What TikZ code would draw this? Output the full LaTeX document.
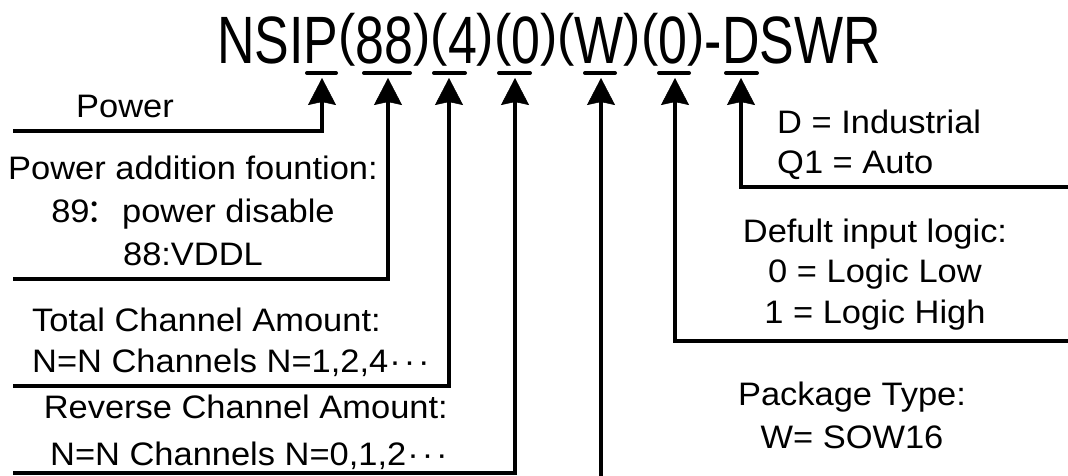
\documentclass[tikz,border=0pt]{standalone}
\usepackage{fontspec}
\usepackage{graphicx}
\setmainfont{Liberation Sans}
\newfontfamily\labfont{Liberation Sans}[FakeStretch=1.06]
\newfontfamily\titlefont{Liberation Sans}
\newfontfamily\cjk{Noto Sans CJK SC}
\usetikzlibrary{arrows.meta}
\newcommand{\mydots}{\kern1pt·\kern3pt·\kern3pt·}
\newcommand{\tpl}{\raisebox{9pt}{\scalebox{1}[0.85]{(}}}
\newcommand{\tpr}{\raisebox{9pt}{\scalebox{1}[0.85]{)}}}
\begin{document}
\begin{tikzpicture}[x=1pt,y=-1pt,
  wire/.style={line width=3.8pt, -{Stealth[length=27pt,width=28pt,inset=3pt,line width=0.5pt]}},
  bar/.style={line width=4pt, line cap=round},
  lab/.style={inner sep=0pt, font=\labfont\fontsize{32.5}{41}\selectfont},
  ]
\useasboundingbox (0,0) rectangle (1068,475);

% title
\node[anchor=base west, inner sep=0pt, font=\titlefont\fontsize{67}{80}\selectfont] (title) at (217,63)
  {\scalebox{0.775}[1]{NSIP\tpl 88\tpr\tpl 4\tpr\tpl 0\tpr\tpl W\tpr\tpl 0\tpr-DSWR}};

% bars under the title
\foreach \a/\b in {307/336, 364/410, 434/465, 499/530, 585/615, 659/689, 726/757}
  \draw[bar] (\a,73) -- (\b,73);

% arrow targets
\coordinate (a1) at (322,78);
\coordinate (a2) at (388,78);
\coordinate (a3) at (449,78);
\coordinate (a4) at (515,78);
\coordinate (a5) at (601,78);
\coordinate (a6) at (675,78);
\coordinate (a7) at (741,78);

% free ends
\coordinate (s1) at (13,131);
\coordinate (s2) at (13,279);
\coordinate (s3) at (13,386);
\coordinate (s4) at (13,473);
\coordinate (s5) at (601,476);
\coordinate (s6) at (1069,341);
\coordinate (s7) at (1069,187);

\draw[wire] (s1) -| (a1);
\draw[wire] (s2) -| (a2);
\draw[wire] (s3) -| (a3);
\draw[wire] (s4) -| (a4);
\draw[wire] (s5) -- (a5);
\draw[wire] (s6) -| (a6);
\draw[wire] (s7) -| (a7);

% labels (base anchor = baseline of the last line)
\node[lab, anchor=base] (power) at (125,117) {Power};
\node[lab, anchor=base, align=center, font=\labfont\fontsize{32.5}{43}\selectfont] (padd) at (193,265)
  {Power addition fountion:\\ 89\kern-3pt{\cjk ：}\kern3pt power disable\\ 88:VDDL};
\node[lab, anchor=base west, align=left, font=\labfont\fontsize{32.5}{41}\selectfont] (total) at (32,372)
  {Total Channel Amount:\\ N=N Channels N=1,2,4\mydots};
\node[lab, anchor=base east, align=right, font=\labfont\fontsize{32.5}{47}\selectfont] (rev) at (448,465)
  {Reverse Channel Amount:\\ N=N Channels N=0,1,2\mydots};
\node[lab, anchor=base west, align=left, font=\labfont\fontsize{32.5}{40}\selectfont] (ind) at (777,173)
  {D = Industrial\\ Q1 = Auto};
\node[lab, anchor=base, align=center, font=\labfont\fontsize{32.5}{40.5}\selectfont] (logic) at (875,323)
  {Defult input logic:\\ 0 = Logic Low\\ 1 = Logic High};
\node[lab, anchor=base, align=center, font=\labfont\fontsize{32.5}{43}\selectfont] (pkg) at (852,448)
  {Package Type:\\ W= SOW16};
\end{tikzpicture}
\end{document}
